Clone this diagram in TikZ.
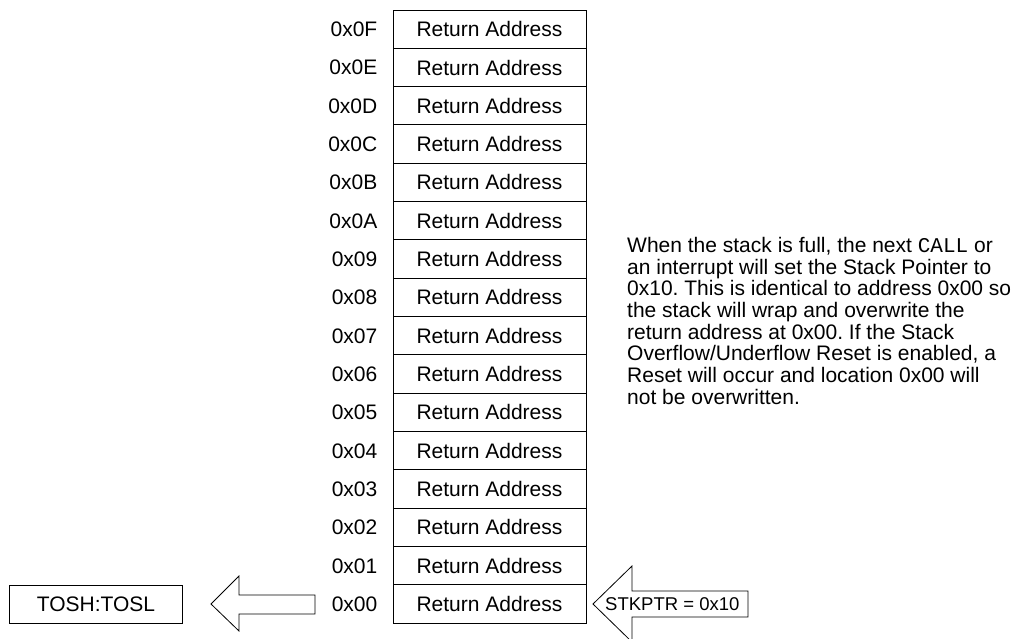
\documentclass[tikz,border=0pt]{standalone}
\usepackage{fontspec}
\setmainfont{Liberation Sans}
\newfontfamily\codefont{Liberation Mono}
\usetikzlibrary{positioning}
\tikzset{
	row/.style={draw, line width=1pt, minimum width=193pt, minimum height=38.33pt, inner sep=0pt},
	addr/.style={inner sep=0pt},
	blockarrow/.style={draw, line width=0.8pt, line join=miter},
}
\newcommand{\txt}{\fontsize{21}{21.7}\selectfont\frenchspacing}

\begin{document}
\begin{tikzpicture}[x=1pt, y=-1pt, font=\txt]
		%%%%% START %%%%%
		\useasboundingbox (0, 0) rectangle (1021, 639);
		
		% stack rows, top to bottom
		\foreach \k/\a in {0/0F, 1/0E, 2/0D, 3/0C, 4/0B, 5/0A, 6/09, 7/08,
		                   8/07, 9/06, 10/05, 11/04, 12/03, 13/02, 14/01, 15/00} {
			\node[row] (r\a) at (489.5, 29.17 + 38.33*\k) {Return Address};
			\node[addr, left=15pt of r\a] (l\a) {0x\a};
		}
		
		% top of stack registers
		\node[draw, line width=1pt, minimum width=173pt, minimum height=38pt, inner sep=0pt] (tos) at (96, 604) {TOSH:TOSL};
		
		\draw[blockarrow] (315, 595) -- (239, 595) -- (239, 576) -- (211, 604)
			-- (239, 631) -- (239, 614) -- (315, 614) -- cycle;
		
		% stack pointer
		\draw[blockarrow] (748, 591) -- (632, 591) -- (632, 566) -- (593, 604)
			-- (632, 642) -- (632, 617) -- (748, 617) -- cycle;
		\node[anchor=west, inner sep=0pt, font=\fontsize{18.5}{20}\selectfont] (sp) at (605, 604) {STKPTR = 0x10};
		
		% note
		\node[anchor=north west, inner sep=0pt, align=left] (note) at (627, 237) {%
			When the stack is full, the next {\codefont CALL} or\\
			an interrupt will set the Stack Pointer to\\
			0x10. This is identical to address 0x00 so\\
			the stack will wrap and overwrite the\\
			return address at 0x00. If the Stack\\
			Overflow/Underflow Reset is enabled, a\\
			Reset will occur and location 0x00 will\\
			not be overwritten.};
		
		%%%%% END %%%%%
	\end{tikzpicture}
\end{document}
